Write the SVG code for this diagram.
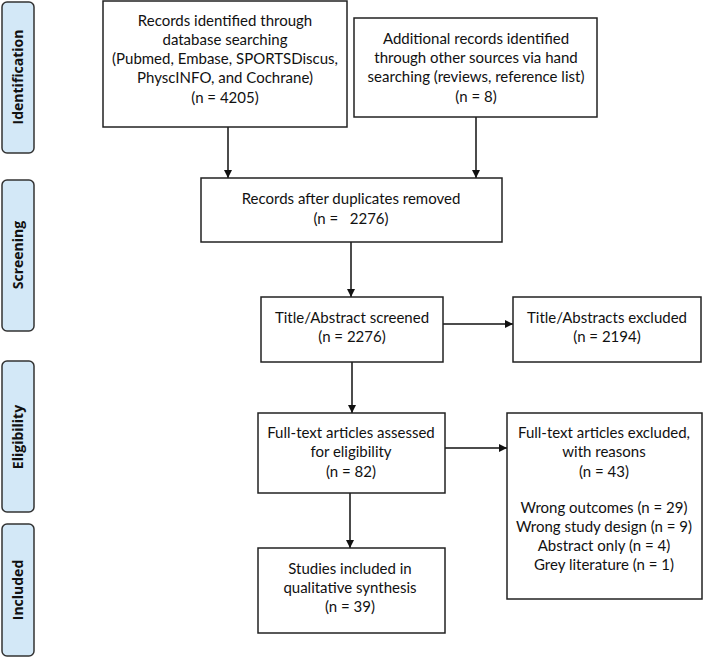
<svg xmlns="http://www.w3.org/2000/svg" width="710" height="657" viewBox="0 0 710 657">
<style>
.box{fill:#fff;stroke:#222;stroke-width:1.5}
.side{fill:#d3e8f7;stroke:#333;stroke-width:1.5}
.t{font-family:Lato,"Liberation Sans",sans-serif;font-size:15px;fill:#111;text-anchor:middle}
.s{font-family:"Open Sans","Liberation Sans",sans-serif;font-size:14px;font-weight:bold;fill:#111;text-anchor:middle}
.c{stroke:#111;stroke-width:1.5;fill:none;marker-end:url(#ah)}
</style>
<defs>
<marker id="ah" markerWidth="8" markerHeight="8" refX="8" refY="4" orient="auto" markerUnits="userSpaceOnUse">
<path d="M0,0 L8,4 L0,8 Z" fill="#111"/>
</marker>
</defs>
<g id="side-identification"><rect class="side" x="2" y="2" width="32" height="151" rx="5"/><text class="s" transform="translate(23,77) rotate(-90)">Identification</text></g>
<g id="side-screening"><rect class="side" x="2" y="180" width="32" height="151" rx="5"/><text class="s" transform="translate(23,255) rotate(-90)">Screening</text></g>
<g id="side-eligibility"><rect class="side" x="2" y="361" width="32" height="151" rx="5"/><text class="s" transform="translate(23,437) rotate(-90)">Eligibility</text></g>
<g id="side-included"><rect class="side" x="2" y="524" width="32" height="132" rx="5"/><text class="s" transform="translate(23,590) rotate(-90)">Included</text></g>

<g id="connectors">
<line class="c" x1="228" y1="127" x2="228" y2="178"/>
<line class="c" x1="476" y1="117" x2="476" y2="178"/>
<line class="c" x1="351" y1="242" x2="351" y2="297"/>
<line class="c" x1="443" y1="324" x2="513" y2="324"/>
<line class="c" x1="352" y1="362" x2="352" y2="413"/>
<line class="c" x1="437" y1="448" x2="507" y2="448"/>
<line class="c" x1="350" y1="493" x2="350" y2="548"/>
</g>

<g id="n1"><rect class="box" x="103" y="1" width="244" height="126"/>
<text class="t" x="225" y="26">Records identified through</text>
<text class="t" x="225" y="45">database searching</text>
<text class="t" x="225" y="64">(Pubmed, Embase, SPORTSDiscus,</text>
<text class="t" x="225" y="83">PhyscINFO, and Cochrane)</text>
<text class="t" x="225" y="103">(n = 4205)</text></g>

<g id="n2"><rect class="box" x="354" y="18" width="243" height="99"/>
<text class="t" x="476" y="44">Additional records identified</text>
<text class="t" x="476" y="63">through other sources via hand</text>
<text class="t" x="476" y="82">searching (reviews, reference list)</text>
<text class="t" x="476" y="102">(n = 8)</text></g>

<g id="n3"><rect class="box" x="201" y="178" width="301" height="64"/>
<text class="t" x="351" y="204">Records after duplicates removed</text>
<text class="t" x="351" y="224" xml:space="preserve">(n =   2276)</text></g>

<g id="n4"><rect class="box" x="261" y="297" width="182" height="65"/>
<text class="t" x="352" y="323">Title/Abstract screened</text>
<text class="t" x="352" y="342">(n = 2276)</text></g>

<g id="n5"><rect class="box" x="513" y="297" width="188" height="65"/>
<text class="t" x="607" y="323">Title/Abstracts excluded</text>
<text class="t" x="607" y="342">(n = 2194)</text></g>

<g id="n6"><rect class="box" x="258" y="413" width="187" height="80"/>
<text class="t" x="351" y="438">Full-text articles assessed</text>
<text class="t" x="351" y="457">for eligibility</text>
<text class="t" x="351" y="477">(n = 82)</text></g>

<g id="n7"><rect class="box" x="507" y="413" width="195" height="186"/>
<text class="t" x="604" y="438">Full-text articles excluded,</text>
<text class="t" x="604" y="457">with reasons</text>
<text class="t" x="604" y="477">(n = 43)</text>
<text class="t" x="604" y="513">Wrong outcomes (n = 29)</text>
<text class="t" x="604" y="532">Wrong study design (n = 9)</text>
<text class="t" x="604" y="551">Abstract only (n = 4)</text>
<text class="t" x="604" y="570">Grey literature (n = 1)</text></g>

<g id="n8"><rect class="box" x="258" y="548" width="187" height="85"/>
<text class="t" x="350" y="574">Studies included in</text>
<text class="t" x="350" y="593">qualitative synthesis</text>
<text class="t" x="350" y="612">(n = 39)</text></g>
</svg>
